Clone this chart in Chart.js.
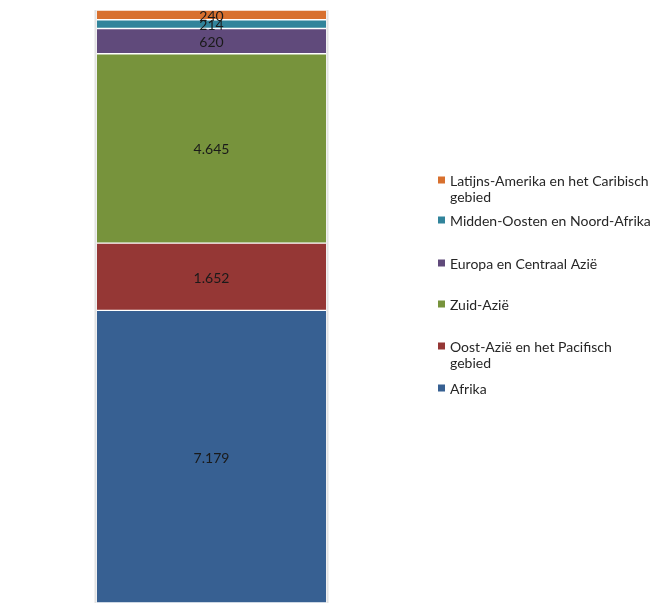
<!DOCTYPE html>
<html><head><meta charset="utf-8">
<script src="https://cdn.jsdelivr.net/npm/chart.js@4"></script>
<style>html,body{margin:0;padding:0;background:#fff;}#wrap{width:653px;height:603px;position:relative;}</style>
</head><body><div id="wrap"><canvas id="c"></canvas></div>
<script>
const categories = [''];
const seriesNames = ['Afrika','Oost-Azië en het Pacifisch gebied','Zuid-Azië','Europa en Centraal Azië','Midden-Oosten en Noord-Afrika','Latijns-Amerika en het Caribisch gebied'];
const afrika = [7179];
const oostAzie = [1652];
const zuidAzie = [4645];
const europa = [620];
const middenOosten = [214];
const latijnsAmerika = [240];
const colors = ['#376092','#953735','#77933C','#604A7B','#31849B','#D8702E'];
const legendLines = [
  ['Latijns-Amerika en het Caribisch','gebied'],
  ['Midden-Oosten en Noord-Afrika'],
  ['Europa en Centraal Azië'],
  ['Zuid-Azië'],
  ['Oost-Azië en het Pacifisch','gebied'],
  ['Afrika']
];
const legendY = [180, 220, 263, 304, 346, 388];

const values = [afrika, oostAzie, zuidAzie, europa, middenOosten, latijnsAmerika];
const total = values.reduce((s,v)=>s+v[0],0);
function fmt(n){return String(n).replace(/\B(?=(\d{3})+(?!\d))/g,'.');}

const labelPlugin = {
  id:'labels',
  afterDatasetsDraw(chart){
    const ctx = chart.ctx;
    ctx.save();
    ctx.font = '14px Lato';
    ctx.fillStyle = '#1a1a1a';
    ctx.textAlign = 'center';
    ctx.textBaseline = 'middle';
    chart.data.datasets.forEach((ds,i)=>{
      const el = chart.getDatasetMeta(i).data[0];
      const mid = (el.y + el.base)/2 + 1.5;
      ctx.fillText(fmt(ds.data[0]), el.x, mid);
    });
    // subtle side shadow
    const top = chart.getDatasetMeta(chart.data.datasets.length-1).data[0];
    const bot = chart.getDatasetMeta(0).data[0];
    ctx.strokeStyle = '#e2e2e2';
    ctx.lineWidth = 2;
    ctx.beginPath();
    ctx.moveTo(bot.x - bot.width/2 - 1.5, top.y); ctx.lineTo(bot.x - bot.width/2 - 1.5, bot.base);
    ctx.moveTo(bot.x + bot.width/2 + 1.5, top.y); ctx.lineTo(bot.x + bot.width/2 + 1.5, bot.base);
    ctx.stroke();
    // legend
    ctx.textAlign = 'left';
    ctx.font = '14px Lato';
    legendLines.forEach((lines,k)=>{
      const dsIndex = seriesNames.length-1-k;
      const y = legendY[k];
      ctx.fillStyle = colors[dsIndex];
      ctx.fillRect(438, y-3.5, 7, 7);
      ctx.fillStyle = '#262626';
      lines.forEach((t,j)=>ctx.fillText(t, 450, y + 1 + j*16));
    });
    ctx.restore();
  }
};

new Chart(document.getElementById('c'), {
  type:'bar',
  data:{
    labels: categories,
    datasets: seriesNames.map((n,i)=>({label:n, data:values[i], backgroundColor:colors[i], borderColor:'#ffffff', borderWidth:{top:1,bottom:1,left:0,right:0}, borderSkipped:false, barPercentage:1, categoryPercentage:1}))
  },
  options:{
    responsive:true, maintainAspectRatio:false, animation:false,
    layout:{padding:{left:97,right:327,top:10,bottom:0}},
    plugins:{legend:{display:false},tooltip:{enabled:false}},
    scales:{
      x:{stacked:true, display:false},
      y:{stacked:true, display:false, min:0, max:total}
    }
  },
  plugins:[labelPlugin]
});
</script></body></html>
